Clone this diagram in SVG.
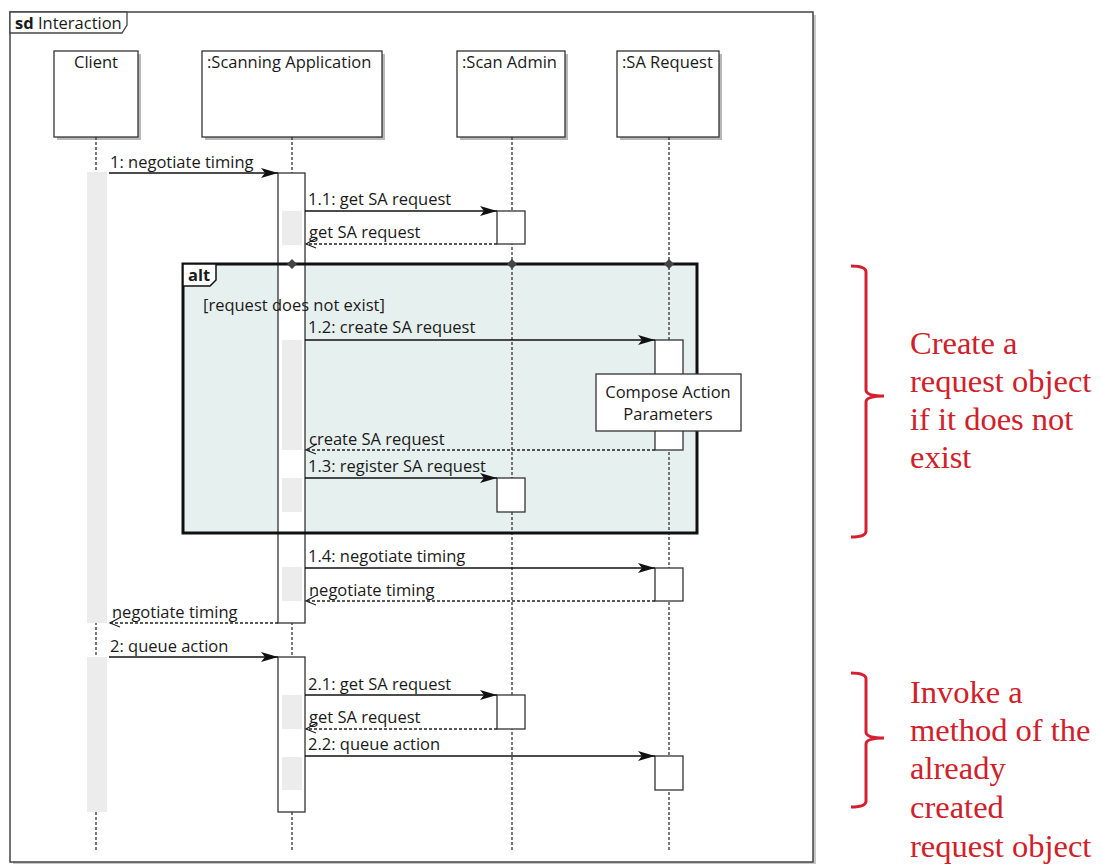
<svg xmlns="http://www.w3.org/2000/svg" width="1101" height="864" viewBox="0 0 1101 864">
<style>
.t{font-family:"Open Sans","Noto Sans",sans-serif;font-size:16.5px;fill:#1a1a1a}
.b{font-weight:bold}
.head{fill:#fff;stroke:#333;stroke-width:1.3}
.shadow{fill:#b8b8b8}
.life{stroke:#333;stroke-width:1.3;stroke-dasharray:3 2;fill:none}
.act{fill:#fff;stroke:#333;stroke-width:1.3}
.band{fill:#ececec}
.msg{stroke:#111;stroke-width:1.4;fill:none;marker-end:url(#sync)}
.ret{stroke:#222;stroke-width:1.3;stroke-dasharray:3 2;fill:none;marker-end:url(#open)}
.red{font-family:"Liberation Serif","Times New Roman",serif;font-size:32.5px;fill:#d0202a}
.brace{stroke:#d42030;stroke-width:3;fill:none}
</style>
<defs>
<marker id="sync" markerUnits="userSpaceOnUse" viewBox="-18 -6 19 12" markerWidth="19" markerHeight="12" refX="0" refY="0" orient="auto"><path d="M-17,-5 L0,0 L-17,5 L-13,0 z" fill="#111"/></marker>
<marker id="open" markerUnits="userSpaceOnUse" viewBox="-13 -7 15 14" markerWidth="15" markerHeight="14" refX="0" refY="0" orient="auto"><path d="M-10,-4 L0,0 L-11,6" fill="none" stroke="#222" stroke-width="1.2"/></marker>
</defs>
<rect width="1101" height="864" fill="#fff"/>

<g id="frame">
<rect x="13" y="15" width="803" height="850" fill="#c8c8c8"/>
<rect x="10" y="12" width="803" height="850" fill="#fff" stroke="#444" stroke-width="1.5"/>
<path d="M10,12 H127 V25 L122,33 H10 z" fill="#fff" stroke="#444" stroke-width="1.3"/>
<text x="15" y="29" class="t"><tspan class="b">sd</tspan> Interaction</text>
</g>

<g id="client-head">
<rect x="57" y="54" width="84" height="86" class="shadow"/>
<rect x="54" y="51" width="84" height="86" class="head"/>
<text x="96" y="68" class="t" text-anchor="middle">Client</text>
</g>
<g id="scanning-head">
<rect x="205" y="54" width="180" height="86" class="shadow"/>
<rect x="202" y="51" width="180" height="86" class="head"/>
<text x="207" y="68" class="t">:Scanning Application</text>
</g>
<g id="scanadmin-head">
<rect x="460" y="54" width="108" height="86" class="shadow"/>
<rect x="457" y="51" width="108" height="86" class="head"/>
<text x="462" y="68" class="t">:Scan Admin</text>
</g>
<g id="sarequest-head">
<rect x="620" y="54" width="102" height="86" class="shadow"/>
<rect x="617" y="51" width="102" height="86" class="head"/>
<text x="622" y="68" class="t">:SA Request</text>
</g>

<g id="alt-fill">
<rect x="183" y="264" width="514" height="269" fill="#e6f0ee"/>
</g>

<g id="lifelines">
<line x1="96" y1="137" x2="96" y2="852" class="life"/>
<line x1="292" y1="137" x2="292" y2="852" class="life"/>
<line x1="512" y1="137" x2="512" y2="852" class="life"/>
<line x1="669" y1="137" x2="669" y2="852" class="life"/>
</g>

<g id="client-activations">
<rect x="87" y="172" width="20" height="451" class="band"/>
<rect x="87" y="657" width="20" height="155" class="band"/>
</g>

<g id="scanning-activations">
<rect x="278" y="173" width="27" height="450" class="act"/>
<rect x="282" y="211" width="20" height="34" class="band"/>
<rect x="282" y="340" width="20" height="110" class="band"/>
<rect x="282" y="478" width="20" height="34" class="band"/>
<rect x="282" y="567" width="20" height="34" class="band"/>
<rect x="278" y="657" width="27" height="155" class="act"/>
<rect x="282" y="695" width="20" height="34" class="band"/>
<rect x="282" y="757" width="20" height="33" class="band"/>
</g>

<g id="scanadmin-activations">
<rect x="497" y="211" width="28" height="33" class="act"/>
<rect x="497" y="478" width="28" height="34" class="act"/>
<rect x="497" y="695" width="28" height="34" class="act"/>
</g>

<g id="sarequest-activations">
<rect x="655" y="340" width="28" height="110" class="act"/>
<rect x="655" y="568" width="28" height="33" class="act"/>
<rect x="655" y="756" width="28" height="34" class="act"/>
</g>

<g id="alt">
<rect x="183" y="264" width="514" height="269" fill="none" stroke="#111" stroke-width="3"/>
<path d="M183,264 H216 V280 L210,286 H183 z" fill="#fff" stroke="#111" stroke-width="1.5"/>
<text x="188" y="281" class="t b">alt</text>
<path d="M292,259 L297,264 L292,269 L287,264 z M512,259 L517,264 L512,269 L507,264 z M669,259 L674,264 L669,269 L664,264 z" fill="#444"/>
<text x="203" y="311" class="t">[request does not exist]</text>
</g>

<g id="connectors">
<line x1="109" y1="173" x2="278" y2="173" class="msg"/>
<text x="110" y="168" class="t">1: negotiate timing</text>
<line x1="305" y1="211" x2="497" y2="211" class="msg"/>
<text x="308" y="205" class="t">1.1: get SA request</text>
<line x1="497" y1="244" x2="306" y2="244" class="ret"/>
<text x="309" y="238" class="t">get SA request</text>
<line x1="305" y1="340" x2="655" y2="340" class="msg"/>
<text x="308" y="333" class="t">1.2: create SA request</text>
<line x1="655" y1="450" x2="306" y2="450" class="ret"/>
<text x="309" y="445" class="t">create SA request</text>
<line x1="305" y1="478" x2="497" y2="478" class="msg"/>
<text x="308" y="472" class="t">1.3: register SA request</text>
<line x1="305" y1="568" x2="655" y2="568" class="msg"/>
<text x="308" y="562" class="t">1.4: negotiate timing</text>
<line x1="655" y1="601" x2="306" y2="601" class="ret"/>
<text x="309" y="596" class="t">negotiate timing</text>
<line x1="278" y1="623" x2="110" y2="623" class="ret"/>
<text x="112" y="618" class="t">negotiate timing</text>
<line x1="109" y1="657" x2="278" y2="657" class="msg"/>
<text x="110" y="652" class="t">2: queue action</text>
<line x1="305" y1="695" x2="497" y2="695" class="msg"/>
<text x="308" y="690" class="t">2.1: get SA request</text>
<line x1="497" y1="729" x2="306" y2="729" class="ret"/>
<text x="309" y="723" class="t">get SA request</text>
<line x1="305" y1="756" x2="655" y2="756" class="msg"/>
<text x="308" y="750" class="t">2.2: queue action</text>
</g>

<g id="note">
<rect x="596" y="374" width="145" height="57" fill="#fff" stroke="#333" stroke-width="1.3"/>
<text x="668" y="398" class="t" text-anchor="middle">Compose Action</text>
<text x="668" y="420" class="t" text-anchor="middle">Parameters</text>
</g>

<g id="annotation-1">
<path d="M851,266 Q866,266 866,272 V390 Q866,396 884,396 Q866,396 866,402 V531 Q866,537 851,537" class="brace"/>
<text class="red"><tspan x="910" y="354">Create a</tspan><tspan x="910" y="392">request object</tspan><tspan x="910" y="430">if it does not</tspan><tspan x="910" y="468">exist</tspan></text>
</g>
<g id="annotation-2">
<path d="M851,673 Q866,673 866,679 V732 Q866,738 884,738 Q866,738 866,744 V801 Q866,807 851,807" class="brace"/>
<text class="red"><tspan x="910" y="703">Invoke a</tspan><tspan x="910" y="741">method of the</tspan><tspan x="910" y="779">already</tspan><tspan x="910" y="818">created</tspan><tspan x="910" y="857">request object</tspan></text>
</g>
</svg>
